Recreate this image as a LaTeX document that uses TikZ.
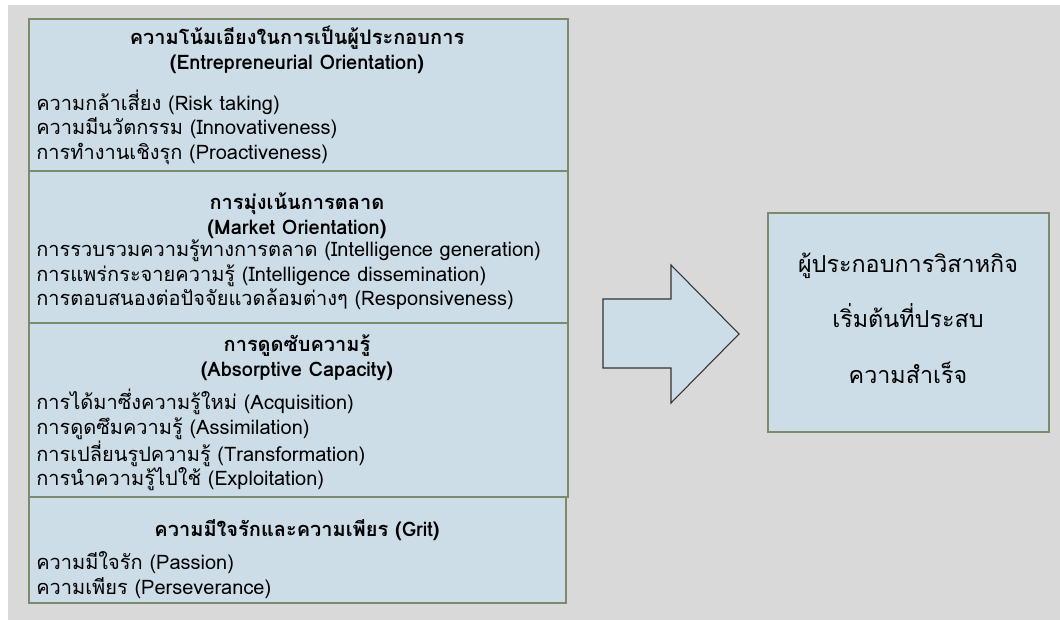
\documentclass[tikz,border=0pt]{standalone}
\usepackage{fontspec}
\setmainfont[Script=Thai]{Loma}
\usepackage{xcolor}
\definecolor{bggray}{HTML}{D9D9D9}
\definecolor{boxblue}{HTML}{CCDDE8}
\definecolor{boxline}{HTML}{7B8B6B}
\tikzset{
    part/.style={draw=boxline, line width=1.2pt, fill=boxblue},
    title/.style={inner sep=0pt, align=center, font=\fontsize{15pt}{19pt}\selectfont\bfseries},
    items/.style={inner sep=0pt, anchor=west, align=left, font=\fontsize{15pt}{18.3pt}\selectfont},
    result/.style={inner sep=0pt, align=center, font=\fontsize{17.5pt}{41.5pt}\selectfont}
}
\begin{document}
\begin{tikzpicture}[x=0.75pt, y=-0.75pt]
    \useasboundingbox (0,0) rectangle (1060,620);
    % Background
    \fill[bggray] (8,5) rectangle (1060,620);

    % Left boxes
    \draw[part] (29,19) rectangle (568,171);
    \draw[part] (29,171) rectangle (568,323);
    \draw[part] (29,323) rectangle (568,497);
    \draw[part] (29,497) rectangle (566,603);

    \node[title] (eotitle) at (297,50) {ความโน้มเอียงในการเป็นผู้ประกอบการ\\(Entrepreneurial Orientation)};
    \node[items] (eoitems) at (36,127) {ความกล้าเสี่ยง (Risk taking)\\ความมีนวัตกรรม (Innovativeness)\\การทำงานเชิงรุก (Proactiveness)};

    \node[title] (motitle) at (297,216) {การมุ่งเน้นการตลาด\\(Market Orientation)};
    \node[items] (moitems) at (36,275) {การรวบรวมความรู้ทางการตลาด (Intelligence generation)\\การแพร่กระจายความรู้ (Intelligence dissemination)\\การตอบสนองต่อปัจจัยแวดล้อมต่างๆ (Responsiveness)};

    \node[title] (actitle) at (297,358) {การดูดซับความรู้\\(Absorptive Capacity)};
    \node[items] (acitems) at (36,440) {การได้มาซึ่งความรู้ใหม่ (Acquisition)\\การดูดซึมความรู้ (Assimilation)\\การเปลี่ยนรูปความรู้ (Transformation)\\การนำความรู้ไปใช้ (Exploitation)};

    \node[title] (grtitle) at (297,530) {ความมีใจรักและความเพียร (Grit)};
    \node[items] (gritems) at (36,575) {ความมีใจรัก (Passion)\\ความเพียร (Perseverance)};

    % Big arrow
    \draw[fill=boxblue, draw=black!80, line width=0.8pt] (603,299) -- (671,299) -- (671,265) -- (739,334) -- (671,403) -- (671,368) -- (603,368) -- cycle;

    % Right box
    \draw[part] (768,213) rectangle (1049,432);
    \node[result] (success) at (908,318) {ผู้ประกอบการวิสาหกิจ\\เริ่มต้นที่ประสบ\\ความสำเร็จ};
\end{tikzpicture}
\end{document}
